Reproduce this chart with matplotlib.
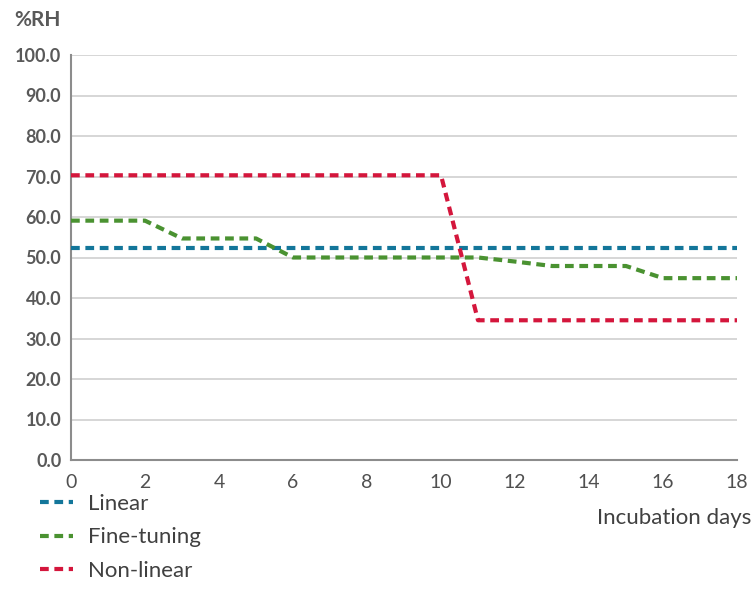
import numpy as np
import matplotlib.pyplot as plt
from matplotlib.lines import Line2D

plt.rcParams['font.family'] = ['Lato', 'DejaVu Sans']

# humidity profiles per incubation day
days = list(range(0, 19))
linear = [52.4] * 19
fine_tuning = [59.1, 59.1, 59.1, 54.7, 54.7, 54.7, 50.0, 50.0, 50.0, 50.0,
               50.0, 50.0, 49.0, 47.9, 47.9, 47.9, 44.9, 44.9, 44.9]
non_linear = [70.3] * 11 + [34.5] * 8
series_names = ['Linear', 'Fine-tuning', 'Non-linear']
series_colors = ['#13769a', '#4a9231', '#d4163c']

fig = plt.figure(figsize=(7.51, 6.06), dpi=100)
ax = fig.add_axes([71/751, 146/606, 666/751, 405/606])

dash = (2.1, 1.35)
for vals, col in zip([linear, fine_tuning, non_linear], series_colors):
    ax.plot(days, vals, color=col, lw=3.0, dashes=dash, zorder=3)

ax.set_xlim(0, 18)
ax.set_ylim(0, 100)
ax.set_xticks(range(0, 19, 2))
ax.set_yticks(np.arange(0, 101, 10))
ax.set_yticklabels([f'{v:.1f}' for v in np.arange(0, 101, 10)],
                   fontsize=13, fontweight='bold', color='#595959')
ax.set_xticklabels([str(v) for v in range(0, 19, 2)], fontsize=14, color='#505050')
ax.tick_params(length=0, pad=7)
ax.tick_params(axis='x', pad=10)

ax.grid(axis='y', color='#cfcfcf', lw=1.2, zorder=0)
for s in ['top', 'right']:
    ax.spines[s].set_visible(False)
ax.spines['left'].set_color('#8c8c8c')
ax.spines['left'].set_linewidth(1.5)
ax.spines['bottom'].set_color('#8c8c8c')
ax.spines['bottom'].set_linewidth(1.5)

fig.text(14/751, 1 - 20/606, '%RH', fontsize=15, fontweight='bold',
         color='#595959', va='center', ha='left')
fig.text(751/751, 1 - 518/606, 'Incubation days', fontsize=16,
         color='#404040', va='center', ha='right')

handles = [Line2D([0], [0], color=c, lw=3.0, dashes=dash) for c in series_colors]
fig.legend(handles, series_names, loc='upper left',
           bbox_to_anchor=(40/751, 1 - 494/606), frameon=False,
           fontsize=16, handlelength=1.5, handletextpad=0.65, labelspacing=0.6,
           labelcolor='#404040', borderpad=0, borderaxespad=0)

fig.savefig('out.png', dpi=100)
